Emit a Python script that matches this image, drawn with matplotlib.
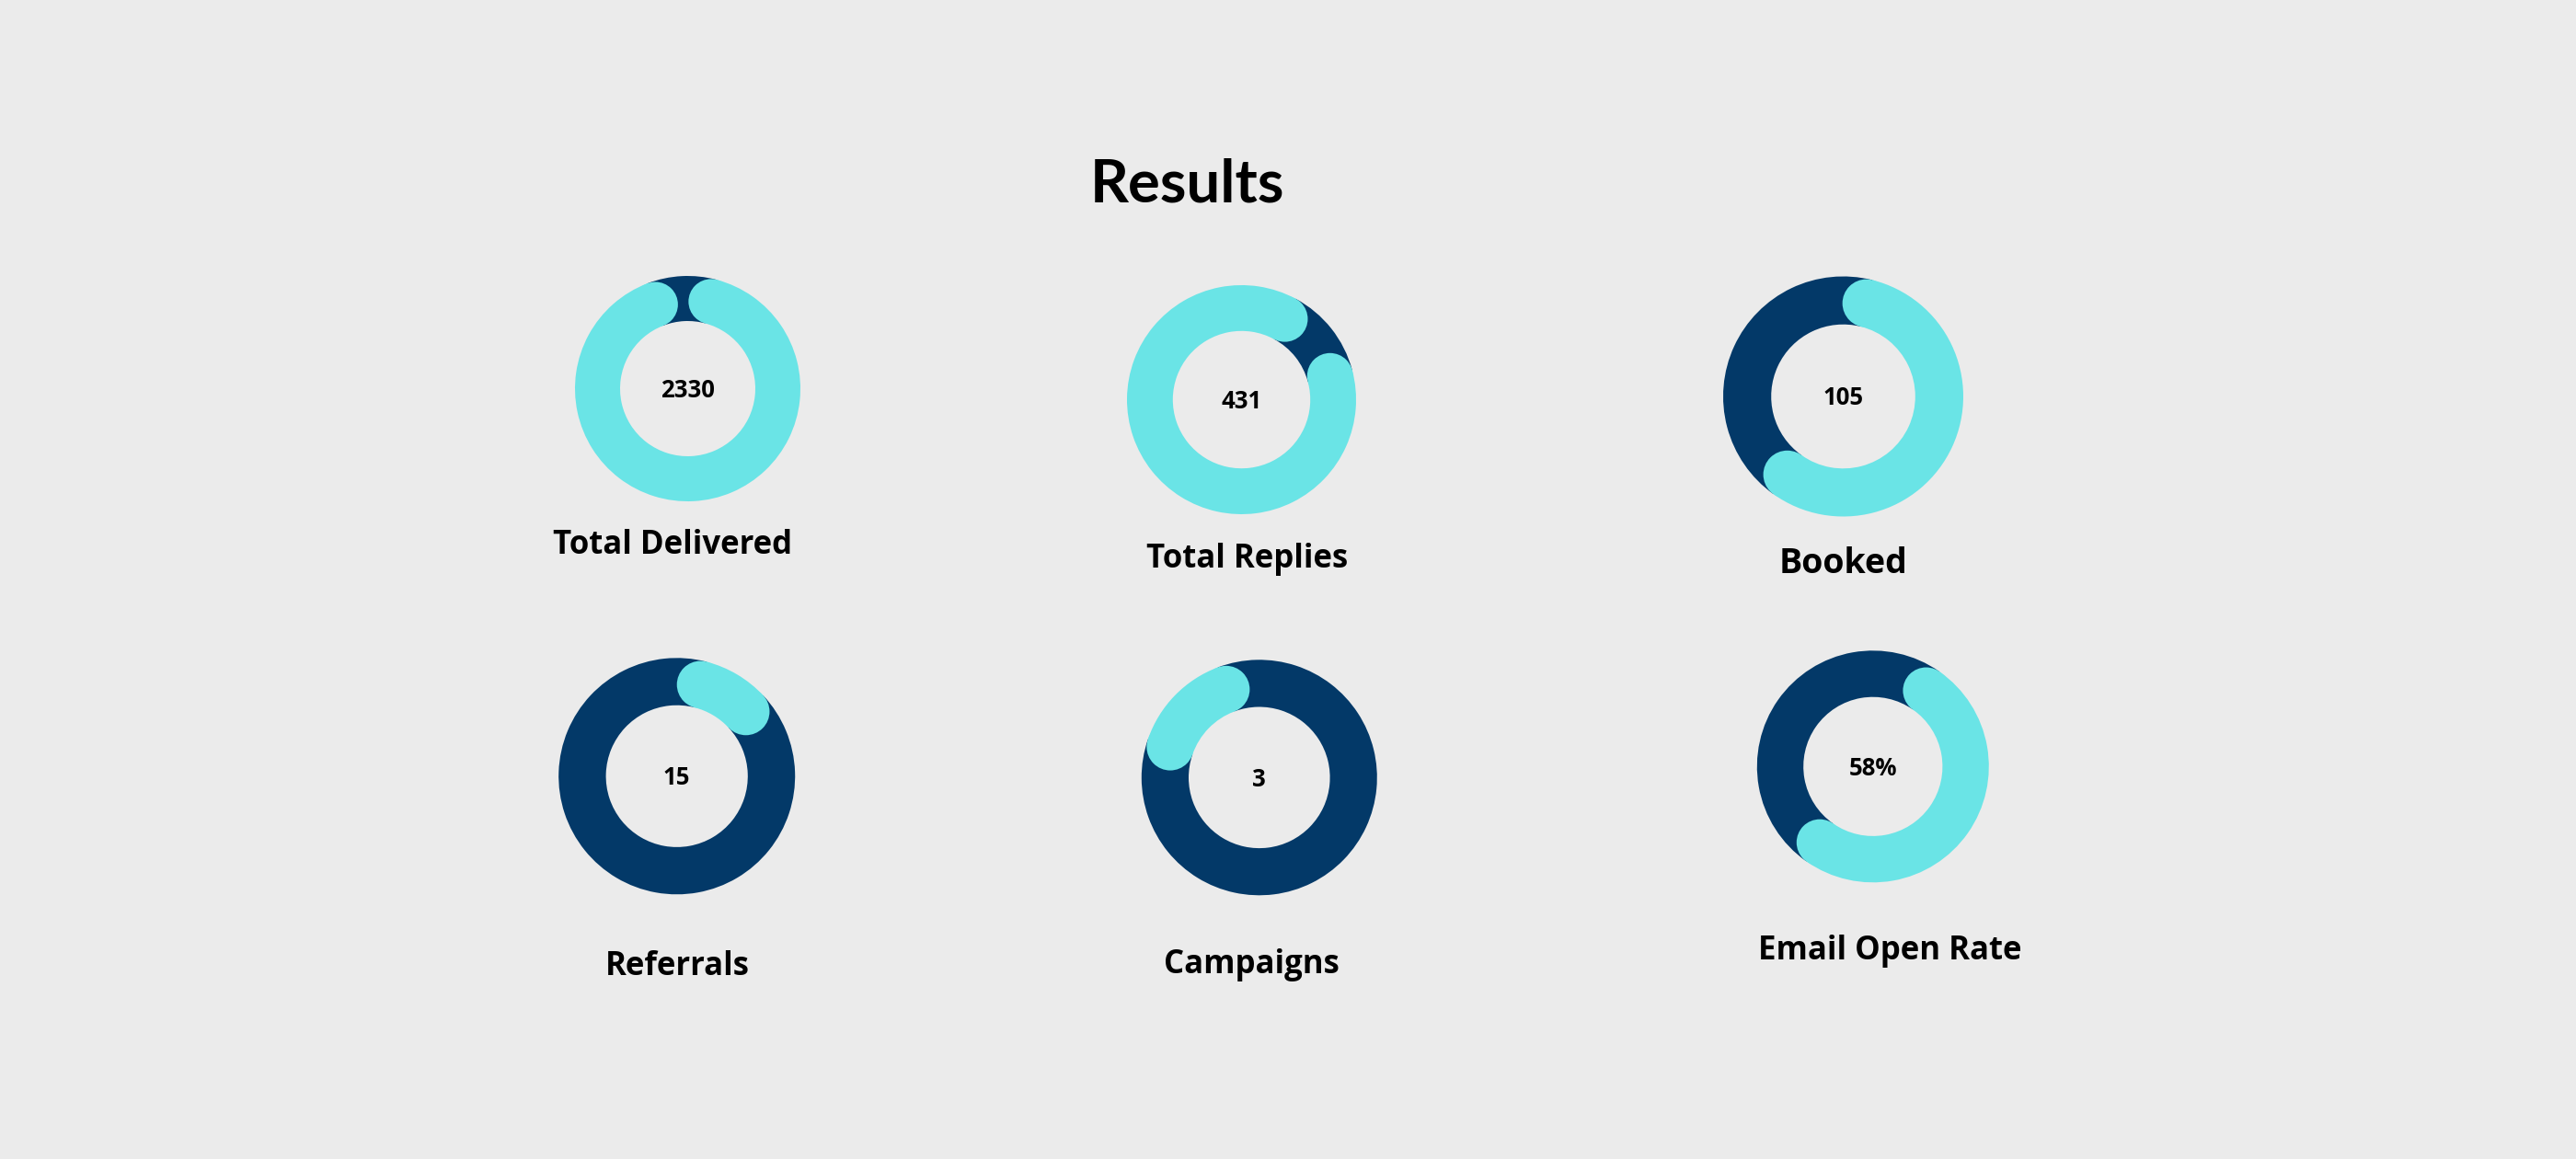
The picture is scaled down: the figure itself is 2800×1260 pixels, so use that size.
import matplotlib
matplotlib.use('Agg')
import matplotlib.pyplot as plt
from matplotlib.patches import Circle
import numpy as np

# data
labels = ['Total Delivered', 'Total Replies', 'Booked',
          'Referrals', 'Campaigns', 'Email Open Rate']
center_text = ['2330', '431', '105', '15', '3', '58%']
arc_fraction = [0.90, 0.87, 0.56, 0.09, 0.14, 0.50]
arc_start_deg = [15, 75, 14, 14.5, 289, 35]   # clockwise from 12 o'clock

# layout (pixels, y measured from the top)
W, H = 2800, 1260
donut_xy = [(747.5, 422.5), (1349.5, 434.5), (2003.5, 431),
            (735.7, 843.8), (1368.8, 845.3), (2035.8, 833.3)]
donut_r = [122.5, 124.5, 130.5, 128.5, 128.0, 126.0]
label_xy = [(731, 601.7), (1356, 616.7), (2003.7, 622.7),
            (736, 1060), (1360, 1058.3), (2054.7, 1043.3)]
label_size = [25, 25, 27, 25, 25, 25]

cyan = '#6AE4E6'
navy = '#033968'
bg = '#EBEBEB'

plt.rcParams['font.family'] = ['Open Sans', 'DejaVu Sans']

fig = plt.figure(figsize=(W / 100, H / 100), dpi=100, facecolor=bg)
ax = fig.add_axes([0, 0, 1, 1])
ax.set_facecolor(bg)

for n in range(len(labels)):
    cx, cy = donut_xy[n][0], H - donut_xy[n][1]
    R = donut_r[n]
    w = 0.4 * R
    frac = arc_fraction[n]
    start = arc_start_deg[n]

    ax.pie([frac, 1 - frac], colors=[cyan, navy], startangle=90 - start,
           counterclock=False, radius=R, center=(cx, cy), frame=True,
           wedgeprops=dict(width=w, linewidth=0.6, edgecolor='none'))

    # rounded ends of the progress arc
    rm = R - w / 2
    for ang in [start, start + frac * 360]:
        t = np.deg2rad(ang)
        ax.add_patch(Circle((cx + rm * np.sin(t), cy + rm * np.cos(t)), w / 2,
                            facecolor=cyan, edgecolor='none', zorder=3))

    ax.text(cx, cy - 9.5, center_text[n], ha='center', va='baseline',
            fontsize=18.5, fontweight='bold', color='#000000', zorder=4)

    lx, ly = label_xy[n]
    ax.text(lx, H - ly, labels[n], ha='center', va='baseline',
            fontsize=label_size[n], fontweight='bold', color='#000000')

ax.text(1291, H - 220, 'Results', ha='center', va='baseline',
        fontsize=47, fontweight='bold', color='#000000',
        family=['Lato', 'DejaVu Sans'])

ax.set_xlim(0, W)
ax.set_ylim(0, H)
ax.set_aspect('equal')
ax.axis('off')

fig.savefig('out.png', dpi=100, facecolor=bg)
